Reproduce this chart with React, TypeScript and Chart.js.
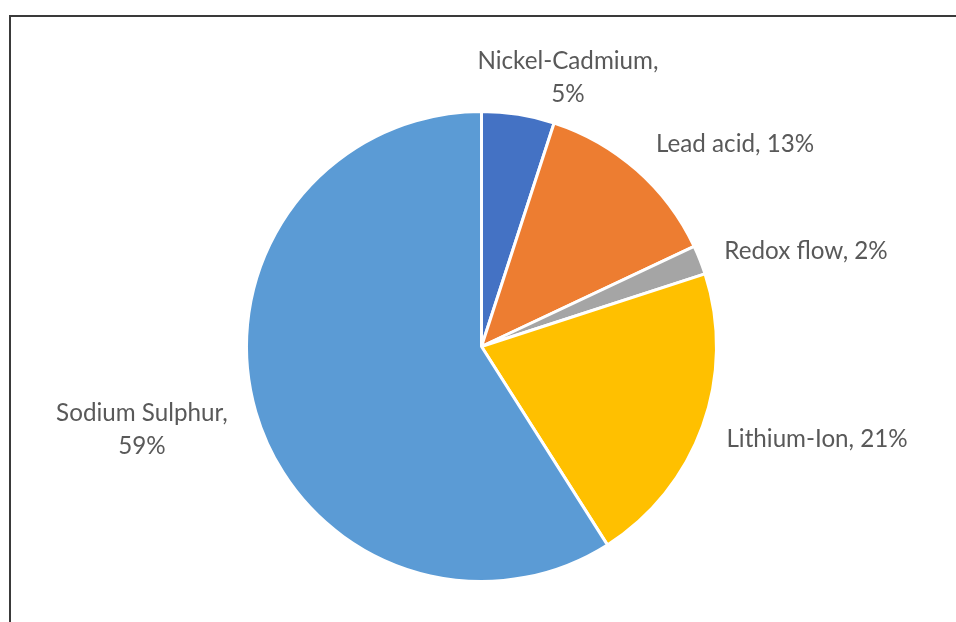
import React, { useEffect, useRef } from "react";
import { Chart, registerables } from "chart.js";

Chart.register(...registerables);

const categories = ["Nickel-Cadmium", "Lead acid", "Redox flow", "Lithium-Ion", "Sodium Sulphur"];
const shares = [5, 13, 2, 21, 59];
const colors = ["#4472C4", "#ED7D31", "#A5A5A5", "#FFC000", "#5B9BD5"];
// label text split (true = value on second line)
const wrapLabel = [true, false, false, false, true];
// label placement relative to pie centre, in units of the radius
const labelFx = [0.368, 1.079, 1.381, 1.428, -1.445];
const labelFy = [-1.147, -0.866, -0.411, 0.391, 0.349];

const FONT_SIZE = 24.2;
const LINE_H = 33;

const framePlugin = {
  id: "frame",
  beforeDraw(chart: any) {
    const ctx = chart.ctx;
    ctx.save();
    ctx.fillStyle = "#ffffff";
    ctx.fillRect(0, 0, chart.width, chart.height);
    ctx.strokeStyle = "#3a3a3a";
    ctx.lineWidth = 2;
    ctx.beginPath();
    ctx.moveTo(chart.width, 16);
    ctx.lineTo(10, 16);
    ctx.lineTo(10, chart.height);
    ctx.stroke();
    ctx.restore();
  },
};

const labelPlugin = {
  id: "pieLabels",
  afterDatasetsDraw(chart: any) {
    const meta = chart.getDatasetMeta(0);
    const ctx = chart.ctx;
    ctx.save();
    ctx.fillStyle = "#595959";
    ctx.font = `${FONT_SIZE}px Lato`;
    ctx.textAlign = "center";
    ctx.textBaseline = "alphabetic";
    const capH = FONT_SIZE * 0.72;
    meta.data.forEach((arc: any, i: number) => {
      const { x, y, outerRadius } = arc.getProps(["x", "y", "outerRadius"], true);
      const name = categories[i];
      const pct = `${shares[i]}%`;
      const lines = wrapLabel[i] ? [`${name},`, pct] : [`${name}, ${pct}`];
      const cx = x + labelFx[i] * outerRadius;
      const cy = y + labelFy[i] * outerRadius;
      const n = lines.length;
      lines.forEach((t, k) => {
        const by = cy + (k - (n - 1) / 2) * LINE_H + capH / 2;
        ctx.fillText(t, cx, by);
      });
    });
    ctx.restore();
  },
};

export default function App() {
  const ref = useRef<HTMLCanvasElement>(null);
  useEffect(() => {
    if (!ref.current) return;
    const chart = new Chart(ref.current, {
      type: "pie",
      data: {
        labels: categories,
        datasets: [
          {
            data: shares,
            backgroundColor: colors,
            borderColor: "#ffffff",
            borderWidth: 3,
          },
        ],
      },
      options: {
        animation: false,
        responsive: false,
        maintainAspectRatio: false,
        layout: { padding: { top: 110, bottom: 39, left: 150, right: 143 } },
        plugins: {
          legend: { display: false },
          tooltip: { enabled: false },
          title: { display: false },
        },
      },
      plugins: [framePlugin, labelPlugin],
    });
    return () => chart.destroy();
  }, []);
  return (
    <div style={{ position: "fixed", left: 0, top: 0, width: 956, height: 622, background: "#fff" }}>
      <canvas ref={ref} width={956} height={622} style={{ display: "block" }} />
    </div>
  );
}
